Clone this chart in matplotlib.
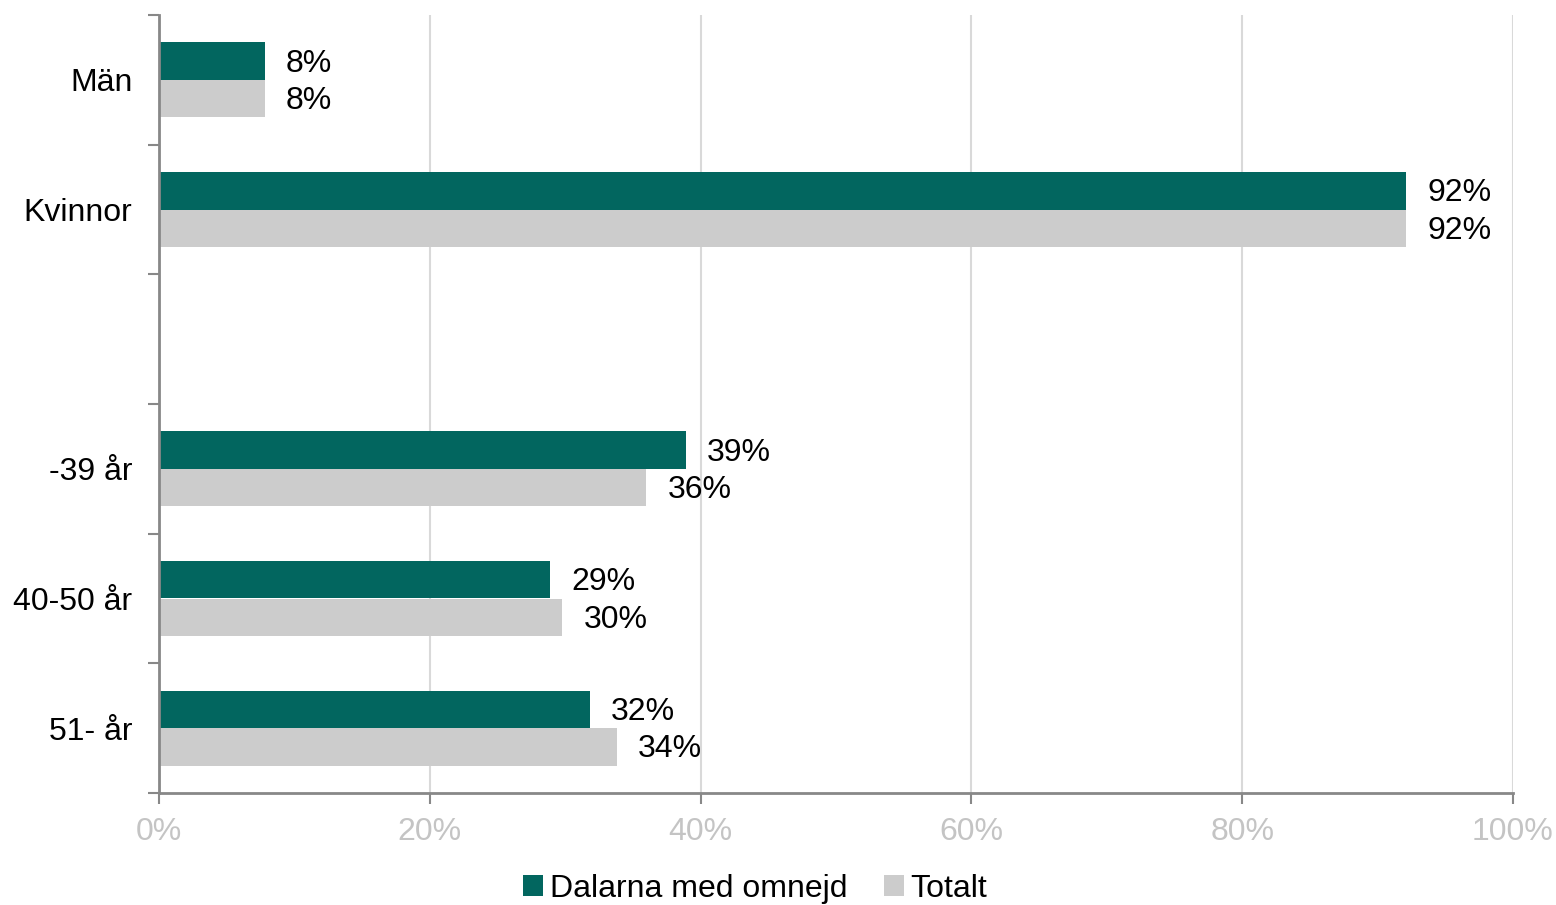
import numpy as np
import matplotlib.pyplot as plt
from matplotlib.ticker import FixedLocator

plt.rcParams['font.family'] = ['Liberation Sans', 'DejaVu Sans']

categories = ['Män', 'Kvinnor', '', '-39 år', '40-50 år', '51- år']
dalarna = [7.8, 92.1, np.nan, 38.9, 28.9, 31.8]
totalt = [7.8, 92.1, np.nan, 36.0, 29.8, 33.8]
series_names = ['Dalarna med omnejd', 'Totalt']
xticks = [0, 20, 40, 60, 80, 100]

green = '#02665f'
grey = '#cccccc'
axis_col = '#888888'
fs = 23

fig = plt.figure(figsize=(15.56, 9.05), dpi=100)
ax = fig.add_axes([159 / 1556, 1 - 793 / 905, (1513 - 159) / 1556, (793 - 15) / 905])

y = np.arange(len(categories))
h = 0.288
b1 = ax.barh(y - h / 2, dalarna, height=h, color=green, label=series_names[0])
b2 = ax.barh(y + h / 2, totalt, height=h, color=grey, label=series_names[1])

off = 21 / 1354 * 100
for vals, pos in ((dalarna, y - h / 2), (totalt, y + h / 2)):
    for v, p in zip(vals, pos):
        if np.isnan(v):
            continue
        ax.text(v + off, p + 0.02, f'{round(v):.0f}%', va='center', ha='left',
                fontsize=fs, color='black')

ax.set_xlim(0, 100)
ax.set_ylim(len(categories) - 0.5, -0.5)
ax.set_xticks(xticks)
ax.set_xticklabels([f'{t}%' for t in xticks])
ax.set_yticks(y)
ax.set_yticklabels(categories)
ax.yaxis.set_minor_locator(FixedLocator(np.arange(-0.5, len(categories), 1)))

ax.tick_params(axis='y', which='major', length=0, pad=19, labelsize=fs)
ax.tick_params(axis='y', which='minor', length=8, width=1.5, color=axis_col, direction='out')
ax.tick_params(axis='x', length=8, width=1.5, color=axis_col, pad=9,
               labelsize=fs, labelcolor='#c4c4c4')

for g in xticks[1:]:
    ax.axvline(g, color='#d9d9d9', lw=1.5, zorder=0)

for s in ('top', 'right'):
    ax.spines[s].set_visible(False)
for s in ('left', 'bottom'):
    ax.spines[s].set_color(axis_col)
    ax.spines[s].set_linewidth(2)

fig.legend(handles=[b1, b2], loc='center', bbox_to_anchor=(755 / 1556, 1 - 889 / 905),
           ncol=2, frameon=False, fontsize=fs, handlelength=0.62, handleheight=0.62,
           handletextpad=0.2, columnspacing=1.15, borderaxespad=0)

fig.savefig('out.png', dpi=100)
